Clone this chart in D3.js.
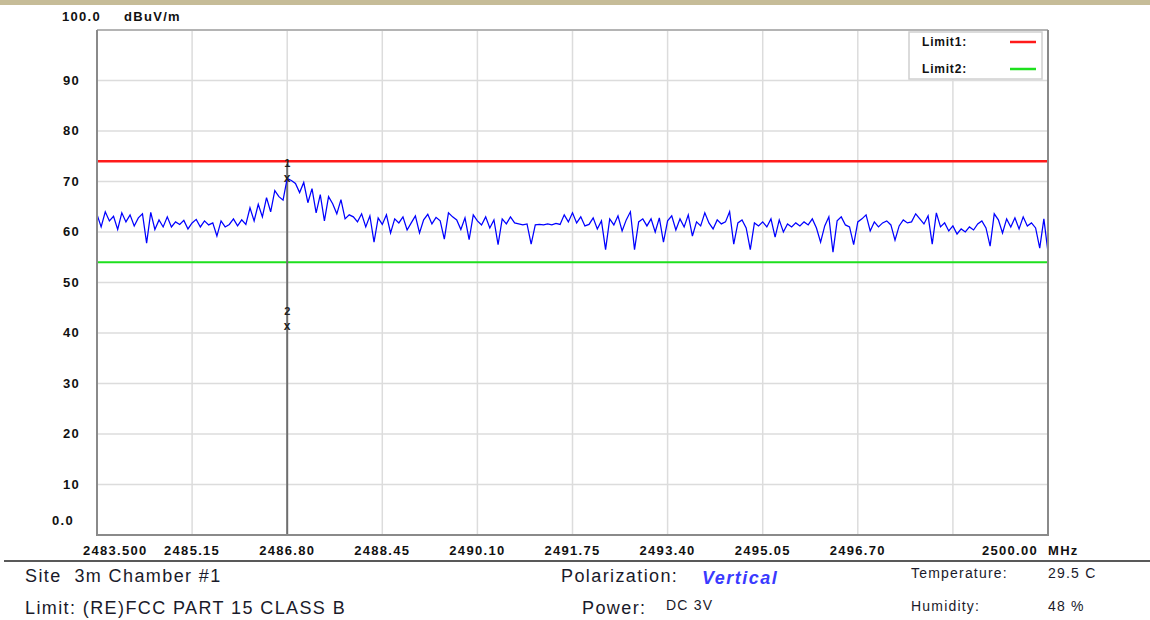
<!DOCTYPE html>
<html>
<head>
<meta charset="utf-8">
<script src="https://cdn.jsdelivr.net/npm/d3@7"></script>
<style>
    body { margin: 0; background: #fff; }
    svg { display: block; }
    svg text { white-space: pre; }
</style>
</head>
<body>
<div id="chart"></div>
<script>
const freqStart = 2483.5;
const freqStop = 2500.0;

const xTickValues = [2483.5, 2485.15, 2486.8, 2488.45, 2490.1, 2491.75, 2493.4, 2495.05, 2496.7, 2498.35, 2500.0];
const xTickLabels = ["2483.500", "2485.15", "2486.80", "2488.45", "2490.10", "2491.75", "2493.40", "2495.05", "2496.70", "", "2500.00"];
const yTickValues = [0, 10, 20, 30, 40, 50, 60, 70, 80, 90, 100];
const yTickLabels = ["0.0", "10", "20", "30", "40", "50", "60", "70", "80", "90", "100.0"];

const limitNames = ["Limit1:", "Limit2:"];
const limitLevels = [74, 54];

const markerNames = ["1", "2"];
const markerFreqs = [2486.8, 2486.8];
const markerLevels = [70.7, 41.4];

// sweep, evenly spaced from freqStart to freqStop (dBuV/m)
const traceLevels = [
    63.5, 61.0, 64.0, 62.2, 63.1, 60.5, 63.8, 62.0, 63.4, 61.2,
    62.8, 63.6, 57.8, 63.9, 60.5, 62.4, 61.0, 63.0, 61.0, 62.0,
    61.5, 62.3, 60.6, 61.8, 62.5, 61.0, 62.2, 61.4, 61.8, 59.2,
    62.2, 61.0, 61.5, 62.6, 61.2, 62.4,
    61.5, 64.8, 62.2, 65.5, 63.0, 66.8, 64.0, 68.2, 67.0, 66.3, 70.6,
    70.2, 69.6, 67.8, 69.8, 65.8, 68.6, 63.8, 67.4, 62.2, 67.0, 65.6, 63.6, 66.4, 62.6, 63.4,
    63.0, 62.0, 63.6, 61.0, 63.2, 58.0, 62.8, 61.5, 63.4, 59.8,
    62.6, 61.8, 63.0, 60.4, 61.8, 63.2, 59.8, 62.4, 63.5, 61.6,
    62.9, 62.2, 58.6, 63.8, 63.0, 62.4, 60.5, 62.8, 58.5, 63.4,
    62.2, 61.4, 63.0, 60.8, 62.4, 57.5, 62.6, 61.6, 63.0, 61.8,
    61.6, 61.4, 61.6, 57.6, 61.4, 61.5, 61.4, 61.6, 61.4, 61.7,
    61.5, 63.4, 62.0, 63.8, 61.8, 63.0, 61.2,
    61.5, 62.8, 60.6, 62.2, 56.5, 62.6, 61.4, 63.2, 60.2, 62.4,
    64.0, 56.5, 62.0, 62.6, 61.2, 62.6, 60.0, 62.8, 58.0, 62.2,
    63.2, 60.4, 62.6, 61.0, 63.4, 59.2, 62.0, 61.2, 63.8, 61.8,
    60.6, 62.4, 61.6, 62.0, 64.0, 57.6, 61.8, 62.4, 60.8, 56.5,
    61.8, 61.2, 62.0, 61.0, 62.6, 59.0, 62.4, 60.0, 61.6, 61.0,
    61.8, 61.2, 62.0, 61.4, 62.6, 60.8,
    58.0, 61.2, 63.0, 56.0, 62.2, 63.0, 61.4, 61.0, 57.5, 62.0,
    62.6, 63.4, 60.2, 62.0, 61.0, 61.8, 62.2, 61.4, 58.4, 61.2,
    62.4, 61.8, 62.0, 63.6, 62.6, 61.6, 63.2, 57.6, 63.8, 61.0,
    61.8, 60.2, 61.2, 59.6, 60.6, 60.0, 61.0, 60.4, 61.6, 62.2,
    60.8, 57.2, 63.6, 62.4, 59.8, 62.6, 61.0, 62.8, 60.6, 63.0,
    61.2, 61.8, 60.8, 56.8, 62.6, 56.0
];

const width = 1150, height = 620;
const plot = {left: 97, right: 1048, top: 30, bottom: 535};
const labelFont = "'Liberation Sans', Arial, sans-serif";

const svg = d3.select("#chart").append("svg")
    .attr("width", width)
    .attr("height", height);

svg.append("rect")
    .attr("width", width)
    .attr("height", height)
    .attr("fill", "#fff");

// strip of the page above the chart
svg.append("rect")
    .attr("width", width)
    .attr("height", 5)
    .attr("fill", "#c6bc98");

const x = d3.scaleLinear().domain([freqStart, freqStop]).range([plot.left, plot.right]);
const y = d3.scaleLinear().domain([0, 100]).range([plot.bottom, plot.top]);
const sweep = d3.scaleLinear().domain([0, traceLevels.length - 1]).range([freqStart, freqStop]);

// grid
const grid = svg.append("g").attr("class", "grid");

grid.selectAll(".vgrid")
    .data(xTickValues.slice(1, -1))
    .join("line")
    .attr("class", "vgrid")
    .attr("x1", (d) => x(d))
    .attr("x2", (d) => x(d))
    .attr("y1", plot.top)
    .attr("y2", plot.bottom)
    .attr("stroke", "#dcdcdc")
    .attr("stroke-width", 1.5);

grid.selectAll(".hgrid")
    .data(yTickValues.slice(1, -1))
    .join("line")
    .attr("class", "hgrid")
    .attr("x1", plot.left)
    .attr("x2", plot.right)
    .attr("y1", (d) => y(d))
    .attr("y2", (d) => y(d))
    .attr("stroke", "#dcdcdc")
    .attr("stroke-width", 1.5);

// limit lines
const limitColors = ["#ff1a1a", "#1ee01e"];

svg.selectAll(".limit")
    .data(limitLevels)
    .join("line")
    .attr("class", "limit")
    .attr("x1", plot.left)
    .attr("x2", plot.right)
    .attr("y1", (d) => y(d))
    .attr("y2", (d) => y(d))
    .attr("stroke", (d, i) => limitColors[i])
    .attr("stroke-width", (d, i) => i === 0 ? 2.5 : 2);

// marker stem
svg.append("line")
    .attr("x1", x(markerFreqs[0]))
    .attr("x2", x(markerFreqs[0]))
    .attr("y1", y(markerLevels[0]) - 14)
    .attr("y2", plot.bottom)
    .attr("stroke", "#6e6e6e")
    .attr("stroke-width", 2);

// trace
const line = d3.line()
    .x((d, i) => x(sweep(i)))
    .y((d) => y(d));

svg.append("path")
    .datum(traceLevels)
    .attr("d", line)
    .attr("fill", "none")
    .attr("stroke", "#0000ff")
    .attr("stroke-width", 1.25)
    .attr("stroke-linejoin", "miter");

// markers
const markers = svg.selectAll(".marker")
    .data(markerNames)
    .join("g")
    .attr("class", "marker")
    .attr("transform", (d, i) => `translate(${x(markerFreqs[i])},${y(markerLevels[i])})`);

markers.append("text")
    .attr("y", -11)
    .attr("text-anchor", "middle")
    .attr("font-family", labelFont)
    .attr("font-weight", "bold")
    .attr("font-size", 11)
    .attr("fill", "#222")
    .text((d) => d);

markers.append("text")
    .attr("y", 4)
    .attr("text-anchor", "middle")
    .attr("font-family", labelFont)
    .attr("font-weight", "bold")
    .attr("font-size", 12)
    .attr("fill", "#222")
    .text("x");

// frame
svg.append("line")
    .attr("x1", plot.left).attr("x2", plot.right)
    .attr("y1", plot.top).attr("y2", plot.top)
    .attr("stroke", "#b4b4b4")
    .attr("stroke-width", 2);

svg.append("path")
    .attr("d", `M${plot.left},${plot.top}V${plot.bottom}H${plot.right}V${plot.top}`)
    .attr("fill", "none")
    .attr("stroke", "#8a8a8a")
    .attr("stroke-width", 2);

// legend
const legend = svg.append("g").attr("transform", "translate(909,32)");

legend.append("rect")
    .attr("width", 133)
    .attr("height", 47)
    .attr("fill", "#fff")
    .attr("stroke", "#d0d0d0")
    .attr("stroke-width", 1.5);

const legendItems = legend.selectAll(".item")
    .data(limitNames)
    .join("g")
    .attr("class", "item")
    .attr("transform", (d, i) => `translate(0,${10 + i * 27})`);

legendItems.append("text")
    .attr("x", 13)
    .attr("y", 4)
    .attr("font-family", labelFont)
    .attr("font-weight", "bold")
    .attr("font-size", 12)
    .attr("letter-spacing", 0.8)
    .attr("fill", "#111")
    .text((d) => d);

legendItems.append("line")
    .attr("x1", 101)
    .attr("x2", 127)
    .attr("y1", 0)
    .attr("y2", 0)
    .attr("stroke", (d, i) => limitColors[i])
    .attr("stroke-width", 2.5);

// axis labels
const tickStyle = (sel) => sel
    .attr("font-family", labelFont)
    .attr("font-weight", "bold")
    .attr("font-size", 13)
    .attr("letter-spacing", 1.3)
    .attr("fill", "#111");

svg.selectAll(".ylabel")
    .data(yTickValues)
    .join("text")
    .attr("class", "ylabel")
    .attr("x", (d) => d === 100 ? 62 : d === 0 ? 74 : 80)
    .attr("y", (d) => y(d) + (d === 100 ? -9 : d === 0 ? -10 : 4))
    .attr("text-anchor", (d) => d === 100 ? "start" : "end")
    .call(tickStyle)
    .text((d, i) => yTickLabels[i]);

svg.append("text")
    .attr("x", 124)
    .attr("y", 21)
    .call(tickStyle)
    .text("dBuV/m");

svg.selectAll(".xlabel")
    .data(xTickValues)
    .join("text")
    .attr("class", "xlabel")
    .attr("x", (d, i) => i === 0 ? 83 : i === xTickValues.length - 1 ? x(d) - 10 : x(d))
    .attr("y", 555)
    .attr("text-anchor", (d, i) => i === 0 ? "start" : i === xTickValues.length - 1 ? "end" : "middle")
    .call(tickStyle)
    .text((d, i) => xTickLabels[i]);

svg.append("text")
    .attr("x", 1048)
    .attr("y", 555)
    .call(tickStyle)
    .text("MHz");

// footer
svg.append("line")
    .attr("x1", 4).attr("x2", width)
    .attr("y1", 561).attr("y2", 561)
    .attr("stroke", "#222")
    .attr("stroke-width", 1.5);

const footer = [
    {text: "Site  3m Chamber #1", x: 25, y: 582, size: 18, spacing: 1.4},
    {text: "Limit: (RE)FCC PART 15 CLASS B", x: 25, y: 614, size: 18, spacing: 1.4},
    {text: "Polarization:", x: 561, y: 582, size: 18, spacing: 1.4},
    {text: "Power:", x: 582, y: 614, size: 18, spacing: 1.4},
    {text: "DC 3V", x: 666, y: 610, size: 14, spacing: 1.2},
    {text: "Temperature:", x: 911, y: 578, size: 14, spacing: 1.2},
    {text: "29.5 C", x: 1048, y: 578, size: 14, spacing: 1.2},
    {text: "Humidity:", x: 911, y: 611, size: 14, spacing: 1.2},
    {text: "48 %", x: 1048, y: 611, size: 14, spacing: 1.2}
];

svg.selectAll(".footer")
    .data(footer)
    .join("text")
    .attr("class", "footer")
    .attr("x", (d) => d.x)
    .attr("y", (d) => d.y)
    .attr("font-family", labelFont)
    .attr("font-size", (d) => d.size)
    .attr("letter-spacing", (d) => d.spacing)
    .attr("fill", "#1a1a2a")
    .text((d) => d.text);

svg.append("text")
    .attr("x", 702)
    .attr("y", 584)
    .attr("font-family", labelFont)
    .attr("font-size", 18)
    .attr("font-weight", "bold")
    .attr("font-style", "italic")
    .attr("letter-spacing", 1.5)
    .attr("fill", "#3a3aff")
    .text("Vertical");
</script>
</body>
</html>
